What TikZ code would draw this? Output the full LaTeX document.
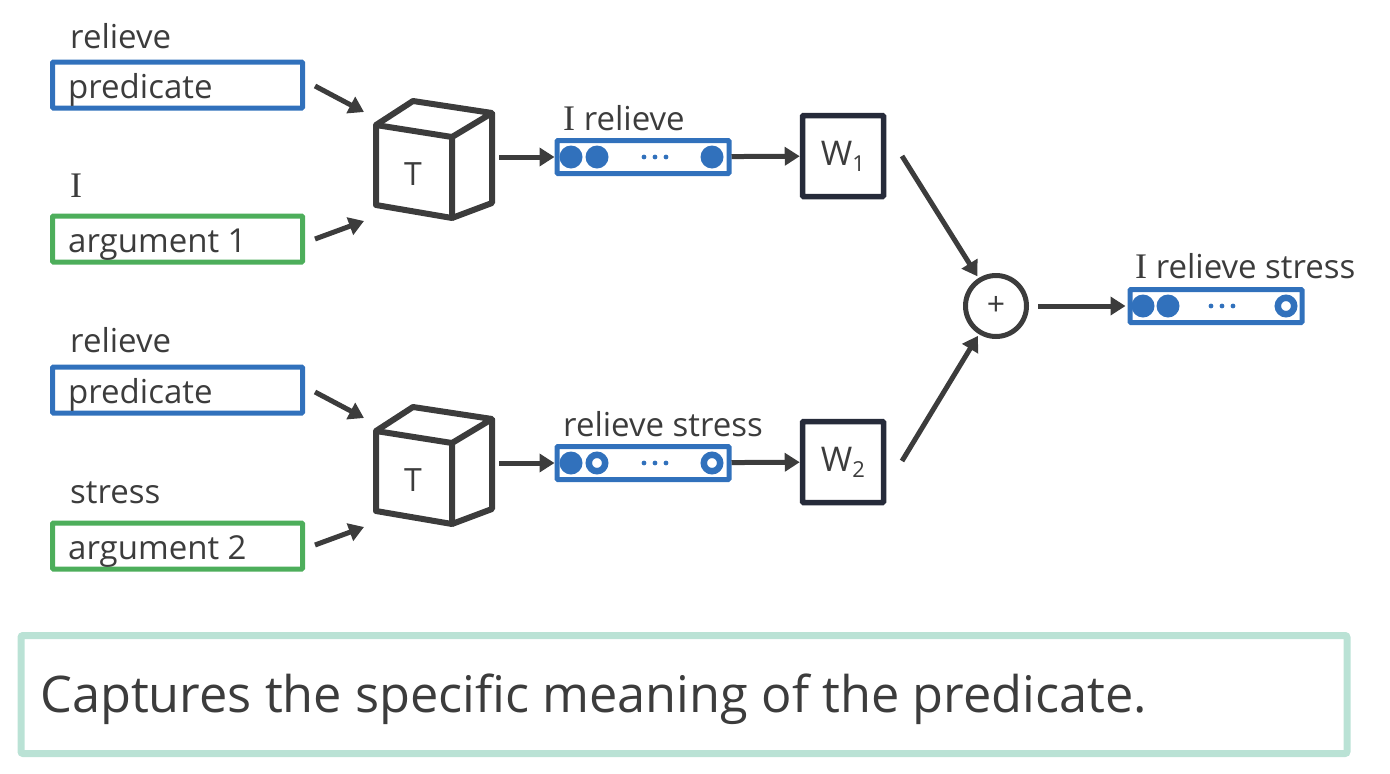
\documentclass[tikz,border=0pt]{standalone}
\usepackage{fontspec}
\setmainfont{Open Sans}
\newfontfamily\serifI{Liberation Serif}
\usetikzlibrary{arrows.meta,calc}
\definecolor{vblue}{HTML}{3171BC}
\definecolor{vgreen}{HTML}{4DAE5B}
\definecolor{txt}{HTML}{3C3C3C}
\definecolor{navy}{HTML}{262B3A}
\definecolor{tealbox}{HTML}{BAE2D5}
\begin{document}
\begin{tikzpicture}[x=1pt,y=-1pt,
  inbox/.style={draw=#1, line width=5pt, minimum width=250pt, minimum height=46pt, inner sep=0pt, rounded corners=1pt},
  lbl/.style={font=\fontsize{33}{33}\selectfont, text=txt, anchor=base west, inner sep=0pt},
  vec/.style={draw=vblue, line width=5pt, minimum width=172pt, minimum height=33pt, inner sep=0pt, rounded corners=1pt},
  wbox/.style={draw=navy, line width=5.5pt, minimum width=81pt, minimum height=81pt, inner sep=0pt, rounded corners=1pt, text=txt, font=\fontsize{34}{34}\selectfont},
  arr/.style={draw=txt, line width=5pt, -{Triangle[length=15pt,width=18pt]}},
  cubeline/.style={draw=txt, line width=6pt, line join=round},
  full/.style={fill=vblue},
  ring/.style={draw=vblue, line width=6.5pt},
  bigI/.style={font=\fontsize{36}{33}\selectfont\serifI}
]
\useasboundingbox (0,0) rectangle (1390,774);

% ---- input boxes
\node[inbox=vblue] (p1) at (177.5,85) {};
\node[lbl] (p1t) at (68,98) {predicate};
\node[lbl] (p1l) at (70,48) {relieve};
\node[inbox=vgreen] (a1) at (177.5,239) {};
\node[lbl] (a1t) at (68,252) {argument 1};
\node[lbl] (a1l) at (70,197) {{\fontsize{36}{36}\serifI I}};

\node[inbox=vblue] (p2) at (177.5,390) {};
\node[lbl] (p2t) at (68,403) {predicate};
\node[lbl] (p2l) at (70,352) {relieve};
\node[inbox=vgreen] (a2) at (177.5,546) {};
\node[lbl] (a2t) at (68,559) {argument 2};
\node[lbl] (a2l) at (70,503) {stress};

% ---- cubes
\foreach \dy/\n in {0/1,306/2}{
  \begin{scope}[yshift=-\dy pt]
    \draw[cubeline] (376,125) -- (452,137) -- (452,218) -- (376,205) -- cycle;
    \draw[cubeline] (376,125) -- (413,101) -- (492,113) -- (452,137);
    \draw[cubeline] (492,113) -- (492,203) -- (452,218);
    \node[text=txt, font=\fontsize{32}{32}\selectfont, inner sep=0pt] (T\n) at (413,174) {T};
    \coordinate (cin\n a) at (364,112);
    \coordinate (cin\n b) at (364,221);
    \coordinate (cout\n) at (499,157);
  \end{scope}
}
\coordinate (p1e) at (315,86);
\coordinate (a1e) at (315,239);
\coordinate (p2e) at (315,392);
\coordinate (a2e) at (315,545);
\draw[arr] (p1e) -- (cin1a);
\draw[arr] (a1e) -- (cin1b);
\draw[arr] (p2e) -- (cin2a);
\draw[arr] (a2e) -- (cin2b);

% ---- vectors
\node[vec] (v1) at (643,157) {};
\node[lbl] (v1l) at (563,130) {{\fontsize{36}{36}\serifI I} relieve};
\fill[full] (571,157) circle (11.5) (597,157) circle (11.5) (712,157) circle (11.5);
\foreach \x in {644,655,666} \fill[vblue] (\x,157) circle (2.4);

\node[vec] (v2) at (643,463) {};
\node[lbl] (v2l) at (563,436) {relieve stress};
\fill[full] (571,463) circle (11.5);
\draw[ring] (597,463) circle (8.2) (712,463) circle (8.2);
\foreach \x in {644,655,666} \fill[vblue] (\x,463) circle (2.4);

\draw[arr] (cout1) -- (v1);
\draw[arr] (cout2) -- (v2);

% ---- W boxes
\node[wbox] (w1) at (843,156) {W{\fontsize{22}{22}\selectfont\raisebox{-6pt}{1}}};
\node[wbox] (w2) at (843,462) {W{\fontsize{22}{22}\selectfont\raisebox{-6pt}{2}}};
\draw[arr] (v1) -- (w1);
\draw[arr] (v2) -- (w2);

% ---- plus
\node[circle, draw=txt, line width=5pt, minimum size=61pt, inner sep=0pt, text=txt, font=\fontsize{32}{32}\selectfont] (plus) at (996,306) {+};
\coordinate (w1o) at (902,156);
\coordinate (w2o) at (902,461);
\draw[arr, shorten >=2pt] (w1o) -- (plus);
\draw[arr, shorten >=2pt] (w2o) -- (plus);

% ---- output vector
\node[vec] (vo) at (1216,306) {};
\node[lbl] (vol) at (1135,278) {{\fontsize{36}{36}\serifI I} relieve stress};
\fill[full] (1143,306) circle (11.5) (1168,306) circle (11.5);
\draw[ring] (1286,306) circle (8.2);
\foreach \x in {1211,1222,1233} \fill[vblue] (\x,306) circle (2.4);
\draw[arr, shorten <=9pt, shorten >=2pt] (plus) -- (vo);

% ---- bottom caption
\node[draw=tealbox, line width=7pt, minimum width=1326pt, minimum height=118pt, inner sep=0pt, rounded corners=2pt] (cap) at (684,694.5) {};
\node[font=\fontsize{50.5}{50.5}\selectfont, text=txt, anchor=base west, inner sep=0pt] (capt) at (40,712) {Captures the specific meaning of the predicate.};
\end{tikzpicture}
\end{document}
